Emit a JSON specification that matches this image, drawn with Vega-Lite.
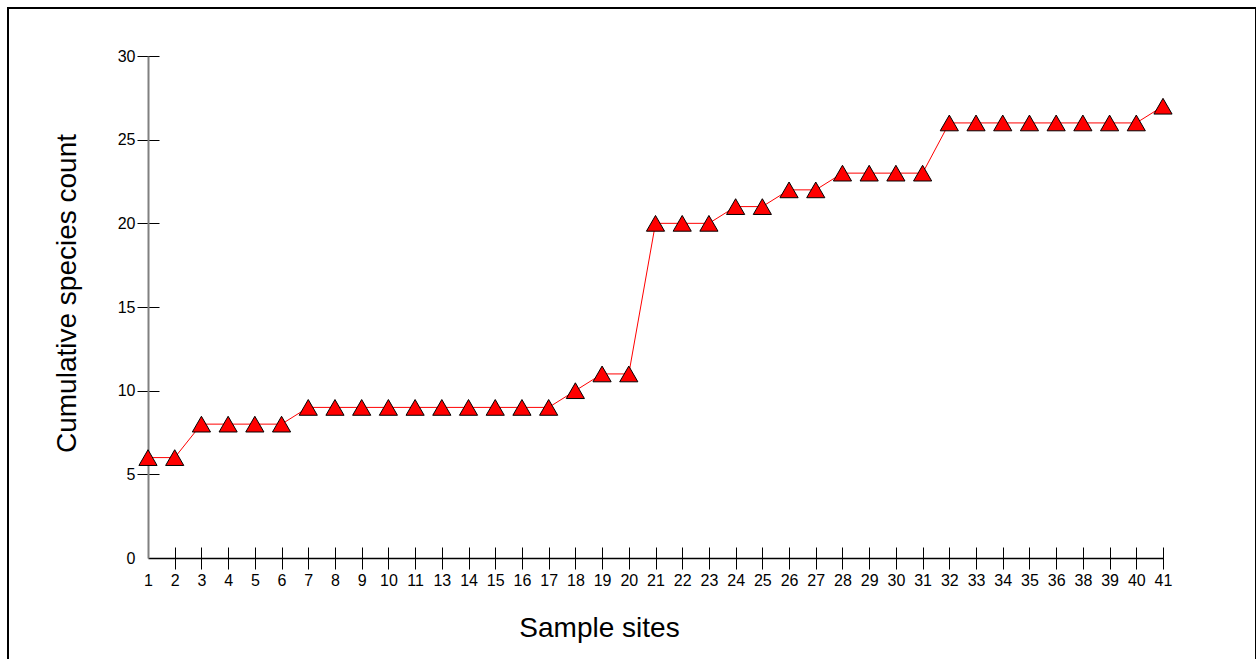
{
  "$schema": "https://vega.github.io/schema/vega-lite/v6.json",
  "width": 1248,
  "height": 660,
  "padding": {"left": 8, "top": 8, "right": 0, "bottom": 0},
  "autosize": {"type": "pad"},
  "background": "white",
  "config": {
    "view": {"stroke": "black", "strokeWidth": 2},
    "font": "Liberation Sans",
    "scale": {"pointPadding": 0},
    "axis": {"labelFont": "Liberation Sans", "titleFont": "Liberation Sans", "grid": false}
  },
  "data": {
    "values": [
      {"site": "1", "count": 6}, {"site": "2", "count": 6}, {"site": "3", "count": 8},
      {"site": "4", "count": 8}, {"site": "5", "count": 8}, {"site": "6", "count": 8},
      {"site": "7", "count": 9}, {"site": "8", "count": 9}, {"site": "9", "count": 9},
      {"site": "10", "count": 9}, {"site": "11", "count": 9}, {"site": "13", "count": 9},
      {"site": "14", "count": 9}, {"site": "15", "count": 9}, {"site": "16", "count": 9},
      {"site": "17", "count": 9}, {"site": "18", "count": 10}, {"site": "19", "count": 11},
      {"site": "20", "count": 11}, {"site": "21", "count": 20}, {"site": "22", "count": 20},
      {"site": "23", "count": 20}, {"site": "24", "count": 21}, {"site": "25", "count": 21},
      {"site": "26", "count": 22}, {"site": "27", "count": 22}, {"site": "28", "count": 23},
      {"site": "29", "count": 23}, {"site": "30", "count": 23}, {"site": "31", "count": 23},
      {"site": "32", "count": 26}, {"site": "33", "count": 26}, {"site": "34", "count": 26},
      {"site": "35", "count": 26}, {"site": "36", "count": 26}, {"site": "38", "count": 26},
      {"site": "39", "count": 26}, {"site": "40", "count": 26}, {"site": "41", "count": 27}
    ]
  },
  "layer": [
    {
      "mark": {"type": "line", "color": "#ff0000", "strokeWidth": 1},
      "encoding": {
        "x": {
          "field": "site",
          "type": "ordinal",
          "scale": {
            "domain": ["1","2","3","4","5","6","7","8","9","10","11","13","14","15","16","17","18","19","20","21","22","23","24","25","26","27","28","29","30","31","32","33","34","35","36","38","39","40","41"],
            "range": [140, 1155],
            "padding": 0,
            "paddingOuter": 0
          },
          "axis": {
            "title": "Sample sites",
            "orient": "bottom",
            "offset": -121,
            "domain": false,
            "tickSize": 22,
            "tickColor": "black",
            "tickWidth": 1,
            "tickOpacity": {"condition": {"test": "datum.value == '1'", "value": 0}, "value": 1},
            "labelPadding": 3,
            "labelFontSize": 16,
            "labelColor": "black",
            "labelAngle": 0,
            "labelOverlap": false,
            "titleFontSize": 28,
            "titleFontWeight": "normal",
            "titleColor": "black",
            "titlePadding": 26,
            "titleX": 591
          }
        },
        "y": {
          "field": "count",
          "type": "quantitative",
          "scale": {"domain": [0, 30], "range": [550, 48], "nice": false},
          "axis": {
            "title": "Cumulative species count",
            "orient": "left",
            "offset": -151,
            "domain": false,
            "values": [0, 5, 10, 15, 20, 25, 30],
            "tickSize": 22,
            "tickColor": "black",
            "tickWidth": 1,
            "tickOpacity": {"condition": {"test": "datum.value == 0", "value": 0}, "value": 1},
            "labelPadding": 2,
            "labelFontSize": 16,
            "labelColor": "black",
            "titleFontSize": 28,
            "titleFontWeight": "normal",
            "titleColor": "black",
            "titlePadding": 36,
            "titleY": 285
          }
        }
      }
    },
    {
      "mark": {"type": "point", "shape": "triangle-up", "filled": true, "fill": "#ff0000", "stroke": "black", "strokeWidth": 1, "size": 330, "opacity": 1},
      "encoding": {
        "x": {
          "field": "site",
          "type": "ordinal",
          "scale": {
            "domain": ["1","2","3","4","5","6","7","8","9","10","11","13","14","15","16","17","18","19","20","21","22","23","24","25","26","27","28","29","30","31","32","33","34","35","36","38","39","40","41"],
            "range": [140, 1155],
            "padding": 0,
            "paddingOuter": 0
          },
          "axis": {
            "title": null,
            "orient": "bottom",
            "offset": -110,
            "domain": true,
            "domainColor": "black",
            "domainWidth": 1.3,
            "ticks": false,
            "labels": false
          }
        },
        "y": {
          "field": "count",
          "type": "quantitative",
          "scale": {"domain": [0, 30], "range": [550, 48], "nice": false},
          "axis": {
            "title": null,
            "orient": "left",
            "offset": -140,
            "domain": true,
            "domainColor": "#808080",
            "domainWidth": 2,
            "ticks": false,
            "labels": false
          }
        }
      }
    }
  ],
  "resolve": {"axis": {"x": "independent", "y": "independent"}}
}
